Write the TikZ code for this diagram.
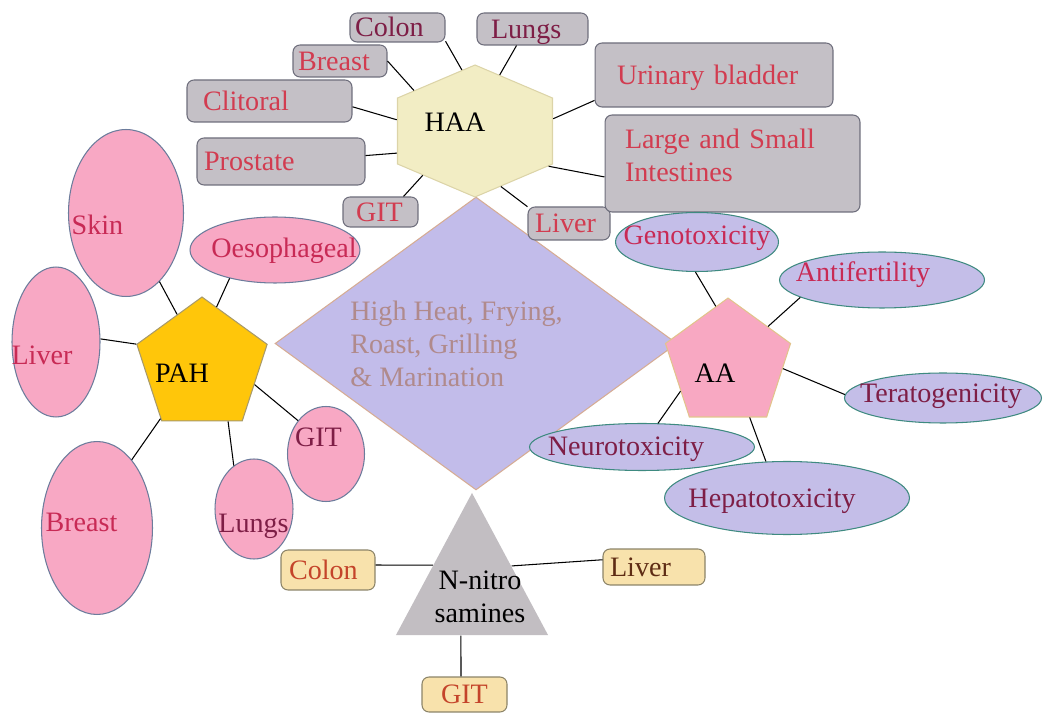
\documentclass[tikz,border=0pt]{standalone}
\usepackage{fontspec}
\setmainfont{Liberation Serif}
\usepackage{tikz}
\usetikzlibrary{shapes.geometric}

\definecolor{boxgray}{HTML}{C4C0C6}
\definecolor{boxline}{HTML}{6E6E7C}
\definecolor{redtxt}{HTML}{D23C50}
\definecolor{darkred}{HTML}{7E1E46}
\definecolor{crimson}{HTML}{C82A55}
\definecolor{pinkfill}{HTML}{F8A8C4}
\definecolor{pinkline}{HTML}{6C7C9C}
\definecolor{pahfill}{HTML}{FFC60A}
\definecolor{pahline}{HTML}{A89A6A}
\definecolor{lavfill}{HTML}{C4BEE8}
\definecolor{lavline}{HTML}{3E8A80}
\definecolor{diafill}{HTML}{C2BCEA}
\definecolor{dialine}{HTML}{D6AC94}
\definecolor{diatxt}{HTML}{B08A8C}
\definecolor{hexfill}{HTML}{F2EDC4}
\definecolor{hexline}{HTML}{DCD4A8}
\definecolor{aafill}{HTML}{F8A8C2}
\definecolor{aaline}{HTML}{E2C48C}
\definecolor{trifill}{HTML}{C2BEC2}
\definecolor{tanfill}{HTML}{F8E2AC}
\definecolor{tanline}{HTML}{8C8468}
\definecolor{brick}{HTML}{C4442A}
\definecolor{darkbrown}{HTML}{5E2C14}

\begin{document}
\begin{tikzpicture}
            [
            x=0.02cm, y=-0.02cm,
            every node/.style={font=\fontsize{16}{19}\selectfont},
            word/.style={text height=10.5pt, text depth=0pt},
            lbl/.style={inner sep=0pt, word},
            hub/.style={regular polygon, inner sep=0pt, line width=0.6pt},
            gbox/.style={draw=boxline, fill=boxgray, rounded corners=4pt,
                line width=0.6pt, align=left, inner ysep=0pt, text=redtxt},
            tbox/.style={draw=tanline, fill=tanfill, rounded corners=4pt,
                line width=0.6pt, align=left, inner ysep=0pt, text=brick},
            pinkleaf/.style={ellipse, draw=pinkline, fill=pinkfill,
                line width=0.6pt, inner sep=0pt},
            lavleaf/.style={ellipse, draw=lavline, fill=lavfill,
                line width=0.6pt, inner sep=0pt},
            link/.style={line width=0.6pt},
            ]
            \useasboundingbox (0,0) rectangle (1064,715);

            % Cooking methods
            \node[diamond, draw=dialine, fill=diafill, line width=0.6pt, inner sep=0pt,
                minimum width=8.04cm, minimum height=5.86cm] (src) at (476,343.5) {};
            \node[anchor=west, align=left, text=diatxt, inner sep=0pt] (src-t) at (350,344)
                {High Heat, Frying,\\Roast, Grilling\\\& Marination};

            % Hubs
            \node[hub, regular polygon sides=6, shape border rotate=30, draw=hexline,
                fill=hexfill, minimum size=2.64cm, xscale=1.356] (haa) at (475,131) {};
            \node[hub, regular polygon sides=5, draw=pahline, fill=pahfill,
                minimum size=2.74cm] (pah) at (202,365.5) {};
            \node[hub, regular polygon sides=5, draw=aaline, fill=aafill,
                minimum size=2.63cm] (aa) at (728,363.8) {};
            \node[hub, regular polygon sides=3, fill=trifill,
                minimum size=3.79cm, xscale=0.927] (nitro) at (472,587.7) {};
            \node[lbl] (haa-t) at (455,122) {HAA};
            \node[lbl] (pah-t) at (182,373) {PAH};
            \node[lbl] (aa-t) at (715,373) {AA};
            \node[align=center, inner sep=0pt] (nitro-t) at (480,597) {N-nitro\\samines};

            % HAA boxes
            \node[gbox, word, text=darkred, inner xsep=0.10cm, text width=1.70cm,
                minimum height=0.58cm] (hcolon) at (397.5,27.5) {Colon};
            \node[gbox, word, text=darkred, inner xsep=0.28cm, text width=1.66cm,
                minimum height=0.64cm] (hlungs) at (532.5,29) {Lungs};
            \node[gbox, word, inner xsep=0.10cm, text width=1.68cm,
                minimum height=0.64cm] (hbreast) at (340,61) {Breast};
            \node[gbox, word, inner xsep=0.32cm, text width=2.66cm,
                minimum height=0.84cm] (hclit) at (269.5,101) {Clitoral};
            \node[gbox, word, inner xsep=0.14cm, text width=3.08cm,
                minimum height=0.94cm] (hprost) at (281,161.5) {Prostate};
            \node[gbox, word, inner xsep=0.26cm, text width=0.98cm,
                minimum height=0.60cm] (hgit) at (380.5,212) {GIT};
            \node[gbox, word, inner xsep=0.14cm, text width=1.36cm,
                minimum height=0.66cm] (hliver) at (569,223.5) {Liver};
            \node[gbox, word, inner xsep=0.44cm, text width=3.88cm,
                minimum height=1.28cm] (hurin) at (714,75) {Urinary bladder};
            \node[gbox, inner xsep=0.40cm, text width=4.30cm, text depth=1.0cm,
                minimum height=1.94cm] (hlarge) at (732.5,163.5) {Large and Small\\Intestines};

            % PAH ellipses
            \node[pinkleaf, minimum width=2.30cm, minimum height=3.34cm] (skin) at (126,213) {};
            \node[pinkleaf, minimum width=3.40cm, minimum height=1.32cm] (oeso) at (275,250) {};
            \node[pinkleaf, minimum width=1.76cm, minimum height=3.00cm] (liver) at (56,342) {};
            \node[pinkleaf, minimum width=2.22cm, minimum height=3.46cm] (breast) at (97,528) {};
            \node[pinkleaf, minimum width=1.56cm, minimum height=2.00cm] (lungs) at (254,509) {};
            \node[pinkleaf, minimum width=1.54cm, minimum height=1.90cm] (git) at (326,454) {};
            \node[lbl, text=crimson] (skin-t) at (97.5,225) {Skin};
            \node[lbl, text=crimson] (oeso-t) at (284,248) {Oesophageal};
            \node[lbl, text=crimson] (liver-t) at (42,355) {Liver};
            \node[lbl, text=crimson] (breast-t) at (81.5,522) {Breast};
            \node[lbl, text=darkred] (lungs-t) at (253.5,523) {Lungs};
            \node[lbl, text=darkred] (git-t) at (318.5,437) {GIT};

            % AA ellipses
            \node[lavleaf, minimum width=3.26cm, minimum height=1.18cm] (geno) at (697,242) {};
            \node[lavleaf, minimum width=4.10cm, minimum height=1.12cm] (anti) at (882,280) {};
            \node[lavleaf, minimum width=3.94cm, minimum height=1.00cm] (terato) at (943,398) {};
            \node[lavleaf, minimum width=4.50cm, minimum height=0.94cm] (neuro) at (642,447) {};
            \node[lavleaf, minimum width=4.90cm, minimum height=1.46cm] (hepa) at (787,498) {};
            \node[lbl, text=crimson] (geno-t) at (697,235) {Genotoxicity};
            \node[lbl, text=crimson] (anti-t) at (863,272) {Antifertility};
            \node[lbl, text=darkred] (terato-t) at (941,393) {Teratogenicity};
            \node[lbl, text=darkred] (neuro-t) at (626,446) {Neurotoxicity};
            \node[lbl, text=darkred] (hepa-t) at (772,498) {Hepatotoxicity};

            % N-nitrosamine boxes
            \node[tbox, word, inner xsep=0.16cm, text width=1.56cm,
                minimum height=0.80cm] (ncolon) at (328,570) {Colon};
            \node[tbox, word, text=darkbrown, inner xsep=0.14cm, text width=1.76cm,
                minimum height=0.72cm] (nliver) at (654,567) {Liver};
            \node[tbox, word, align=center, inner xsep=0.16cm, text width=1.38cm,
                minimum height=0.70cm] (ngit) at (464.5,694.5) {GIT};

            % Links
            \draw[link] (hcolon.344) -- (haa.99);
            \draw[link] (hlungs.226) -- (haa.72);
            \draw[link] (hbreast.east) -- (haa.138);
            \draw[link] (hclit.356) -- (haa.169);
            \draw[link] (hprost.4) -- (haa.201);
            \draw[link] (hgit.34) -- (haa.229);
            \draw[link] (hliver.158) -- (haa.289);
            \draw[link] (hurin.192) -- (haa.12);
            \draw[link] (hlarge.186) -- (haa.327);

            \draw[link] (skin.296) -- (pah.116);
            \draw[link] (oeso.212) -- (pah.76);
            \draw[link] (liver.4) -- (pah.162);
            \draw[link] (breast.63) -- (pah.232);
            \draw[link] (lungs.115) -- (pah.295);
            \draw[link] (git.130) -- (pah.340);

            \draw[link] (geno.267) -- (aa.102);
            \draw[link] (anti.192) -- (aa.43);
            \draw[link] (terato.178) -- (aa.355);
            \draw[link] (neuro.56) -- (aa.210);
            \draw[link] (hepa.120) -- (aa.292);

            \draw[link] (ncolon.6) -- (nitro.152);
            \draw[link] (nliver.172) -- (nitro.27);
            \draw[link] (ngit.101) -- (nitro.256);
\end{tikzpicture}
\end{document}
